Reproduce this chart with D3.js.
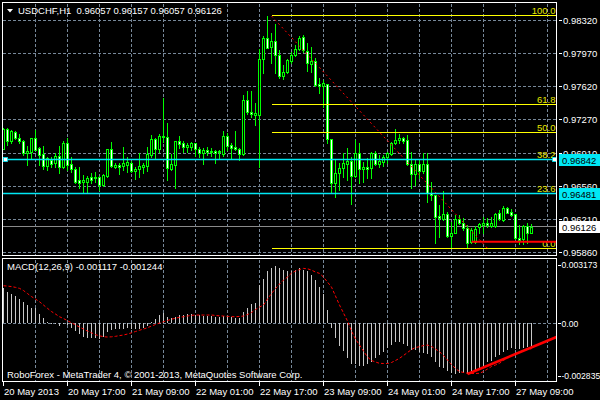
<!DOCTYPE html>
<html><head><meta charset="utf-8">
<script src="https://cdn.jsdelivr.net/npm/d3@7"></script>
<style>
body{margin:0;background:#000}
svg{display:block}
text{font-family:"Liberation Sans",Arial,sans-serif;font-size:9.5px}
</style>
</head><body>
<svg id="c" width="600" height="400"></svg>
<script>
// ---------------- data ----------------
const headerText = "USDCHF,H1  0.96057 0.96157 0.96057 0.96126";
const macdText = "MACD(12,26,9) -0.001117 -0.001244";
const copyrightText = "RoboForex - MetaTrader 4, \u00A9 2001-2013, MetaQuotes Software Corp.";
const timeLabels = ["20 May 2013","20 May 17:00","21 May 09:00","22 May 01:00","22 May 17:00","23 May 09:00","24 May 01:00","24 May 17:00","27 May 09:00"];
const timeLabelBars = [0,16,32,48,64,80,96,112,128];
const priceTicks = [0.98320,0.97970,0.97620,0.97270,0.96910,0.96560,0.96210,0.95860];
const priceTickLabels = ["0.98320","0.97970","0.97620","0.97270","0.96910","0.96560","0.96210","0.95860"];
const macdTicks = [0.003173, 0, -0.002835];
const macdTickLabels = ["0.003173","0.00","-0.002835"];
// [open, high, low, close]
const candles = [
[0.96958,0.97175,0.96952,0.97165],[0.97165,0.97175,0.96998,0.97043],[0.97043,0.97157,0.97022,0.97146],[0.97139,0.97146,0.97058,0.97069],
[0.97069,0.97111,0.97022,0.97043],[0.97043,0.97051,0.96891,0.96909],[0.96909,0.96987,0.96785,0.96934],[0.96926,0.97075,0.96856,0.97069],
[0.97069,0.97157,0.96944,0.96944],[0.96962,0.96979,0.96785,0.96891],[0.96902,0.96987,0.96739,0.96777],[0.96777,0.96867,0.96732,0.96856],
[0.96838,0.96867,0.96767,0.96795],[0.96803,0.96909,0.96767,0.96881],[0.96881,0.96987,0.96696,0.96760],[0.96760,0.97040,0.96750,0.97016],
[0.97016,0.97069,0.96732,0.96785],[0.96795,0.96867,0.96714,0.96739],[0.96739,0.96767,0.96590,0.96607],[0.96625,0.96760,0.96537,0.96596],
[0.96607,0.96678,0.96484,0.96625],[0.96607,0.96668,0.96490,0.96643],[0.96654,0.96703,0.96590,0.96625],[0.96643,0.96714,0.96607,0.96660],
[0.96660,0.96668,0.96519,0.96572],[0.96572,0.96686,0.96561,0.96678],[0.96668,0.96958,0.96660,0.96952],[0.96952,0.97033,0.96767,0.96774],
[0.96760,0.96809,0.96750,0.96785],[0.96785,0.96809,0.96689,0.96760],[0.96774,0.96973,0.96732,0.96809],[0.96785,0.96867,0.96714,0.96820],
[0.96809,0.96830,0.96714,0.96724],[0.96724,0.96767,0.96633,0.96739],[0.96739,0.96916,0.96660,0.96774],[0.96767,0.96809,0.96703,0.96785],
[0.96777,0.96979,0.96724,0.96902],[0.96891,0.97104,0.96873,0.97058],[0.97058,0.97069,0.96856,0.96952],[0.96952,0.97115,0.96926,0.97093],
[0.97093,0.97494,0.97033,0.97079],[0.97086,0.97235,0.96625,0.96750],[0.96739,0.96902,0.96732,0.96795],[0.96785,0.97040,0.96537,0.97040],
[0.97040,0.97093,0.96962,0.97008],[0.97022,0.97043,0.96926,0.96979],[0.96979,0.97022,0.96926,0.96998],[0.96979,0.97033,0.96944,0.97022],
[0.97022,0.97022,0.96881,0.96952],[0.96952,0.96979,0.96873,0.96909],[0.96909,0.96962,0.96795,0.96944],[0.96944,0.96973,0.96891,0.96926],
[0.96926,0.96962,0.96881,0.96937],[0.96934,0.96944,0.96809,0.96909],[0.96926,0.96944,0.96845,0.96934],[0.96902,0.97150,0.96881,0.97093],
[0.97093,0.97122,0.96944,0.96987],[0.96998,0.97022,0.96845,0.96962],[0.96973,0.97150,0.96944,0.96952],[0.96952,0.96962,0.96838,0.96902],
[0.96902,0.97529,0.96891,0.97476],[0.97476,0.97575,0.97327,0.97352],[0.97352,0.97575,0.97299,0.97327],[0.97317,0.97448,0.97210,0.97341],
[0.97317,0.98016,0.96767,0.97909],[0.97909,0.98157,0.97767,0.98133],[0.98133,0.98370,0.98026,0.98026],[0.98037,0.98186,0.97867,0.98107],
[0.98107,0.98285,0.97760,0.97955],[0.97955,0.98008,0.97707,0.97732],[0.97732,0.97849,0.97696,0.97777],[0.97777,0.97909,0.97767,0.97902],
[0.97894,0.97990,0.97867,0.97955],[0.97955,0.98061,0.97944,0.98016],[0.98016,0.98157,0.98008,0.98133],[0.98143,0.98168,0.97990,0.98008],
[0.98001,0.98079,0.97788,0.97867],[0.97859,0.98037,0.97777,0.97894],[0.97894,0.97920,0.97625,0.97636],[0.97646,0.97707,0.97548,0.97625],
[0.97625,0.97689,0.97405,0.97654],[0.97646,0.97646,0.97016,0.97058],[0.97058,0.97058,0.96501,0.96596],[0.96596,0.96845,0.96448,0.96696],
[0.96696,0.96803,0.96519,0.96750],[0.96750,0.96916,0.96660,0.96803],[0.96795,0.96962,0.96625,0.96830],[0.96830,0.96873,0.96370,0.96668],
[0.96668,0.97051,0.96660,0.96916],[0.96916,0.97022,0.96596,0.96739],[0.96739,0.96820,0.96607,0.96760],[0.96760,0.96856,0.96643,0.96739],
[0.96750,0.96926,0.96643,0.96916],[0.96916,0.96937,0.96785,0.96795],[0.96795,0.96891,0.96760,0.96830],[0.96820,0.96891,0.96774,0.96873],
[0.96873,0.96926,0.96809,0.96909],[0.96902,0.97033,0.96891,0.97016],[0.97016,0.97165,0.97008,0.97051],[0.97051,0.97115,0.97016,0.97069],
[0.97069,0.97079,0.97016,0.97043],[0.97051,0.97104,0.96785,0.96795],[0.96795,0.96926,0.96537,0.96689],[0.96689,0.96845,0.96572,0.96795],
[0.96795,0.96845,0.96643,0.96724],[0.96724,0.96916,0.96703,0.96795],[0.96795,0.96909,0.96394,0.96484],[0.96484,0.96607,0.96412,0.96466],
[0.96466,0.96466,0.95952,0.96235],[0.96242,0.96359,0.96022,0.96218],[0.96207,0.96511,0.96200,0.96264],[0.96264,0.96288,0.96016,0.96029],
[0.96029,0.96182,0.95899,0.96065],[0.96065,0.96253,0.96058,0.96207],[0.96207,0.96253,0.96157,0.96171],[0.96171,0.96218,0.96093,0.96111],
[0.96111,0.96146,0.95899,0.95958],[0.95969,0.96111,0.95958,0.96093],[0.95969,0.96136,0.95958,0.96101],[0.96122,0.96171,0.96065,0.96157],
[0.96146,0.96228,0.96065,0.96165],[0.96165,0.96218,0.96128,0.96146],[0.96136,0.96228,0.96128,0.96165],[0.96136,0.96277,0.96128,0.96264],
[0.96271,0.96306,0.96200,0.96207],[0.96200,0.96349,0.96192,0.96324],[0.96324,0.96341,0.96271,0.96277],[0.96288,0.96314,0.96242,0.96253],
[0.96264,0.96264,0.95994,0.96005],[0.96005,0.96146,0.95944,0.95987],[0.95994,0.96146,0.95944,0.96136],[0.96136,0.96171,0.95958,0.96058],
[0.96057,0.96157,0.96057,0.96126]
];
const macdMain = [
1727e-6,1530e-6,1432e-6,1363e-6,1200e-6,1068e-6,905e-6,772e-6,743e-6,448e-6,
251e-6,84e-6,20e-6,-44e-6,-113e-6,-30e-6,-79e-6,-212e-6,-374e-6,-536e-6,
-654e-6,-704e-6,-704e-6,-733e-6,-768e-6,-654e-6,-438e-6,-325e-6,-276e-6,-276e-6,
-276e-6,-241e-6,-276e-6,-276e-6,-276e-6,-212e-6,-113e-6,84e-6,216e-6,413e-6,
497e-6,330e-6,280e-6,330e-6,413e-6,413e-6,448e-6,448e-6,413e-6,413e-6,
379e-6,379e-6,379e-6,330e-6,330e-6,379e-6,379e-6,330e-6,280e-6,280e-6,
546e-6,772e-6,940e-6,989e-6,1889e-6,2184e-6,2578e-6,2740e-6,2839e-6,2711e-6,
2627e-6,2578e-6,2578e-6,2627e-6,2711e-6,2627e-6,2578e-6,2381e-6,2135e-6,1806e-6,
1432e-6,659e-6,-241e-6,-733e-6,-1097e-6,-1358e-6,-1717e-6,-2012e-6,-2012e-6,-2081e-6,
-2081e-6,-2012e-6,-1914e-6,-1717e-6,-1555e-6,-1392e-6,-1225e-6,-1063e-6,-930e-6,-930e-6,
-1028e-6,-1097e-6,-1309e-6,-1309e-6,-1392e-6,-1471e-6,-1520e-6,-1638e-6,-1884e-6,-2130e-6,
-2209e-6,-2342e-6,-2455e-6,-2504e-6,-2455e-6,-2455e-6,-2504e-6,-2455e-6,-2293e-6,-2209e-6,
-2081e-6,-1914e-6,-1850e-6,-1638e-6,-1555e-6,-1422e-6,-1309e-6,-1225e-6,-1240e-6,-1260e-6,
-1200e-6,-1180e-6,-1117e-6
];
const macdSignal = [
1855e-6,1840e-6,1815e-6,1776e-6,1727e-6,1619e-6,1471e-6,1323e-6,1200e-6,1068e-6,
905e-6,743e-6,585e-6,462e-6,330e-6,241e-6,133e-6,30e-6,-69e-6,-177e-6,
-276e-6,-374e-6,-462e-6,-551e-6,-610e-6,-654e-6,-669e-6,-659e-6,-635e-6,-600e-6,
-571e-6,-522e-6,-462e-6,-399e-6,-335e-6,-276e-6,-212e-6,-128e-6,-54e-6,20e-6,
84e-6,143e-6,207e-6,256e-6,300e-6,330e-6,364e-6,399e-6,413e-6,413e-6,
413e-6,413e-6,413e-6,394e-6,374e-6,364e-6,349e-6,335e-6,330e-6,344e-6,
364e-6,438e-6,536e-6,684e-6,807e-6,905e-6,1200e-6,1471e-6,1717e-6,1938e-6,
2135e-6,2283e-6,2480e-6,2578e-6,2652e-6,2711e-6,2691e-6,2627e-6,2529e-6,2465e-6,
2283e-6,2037e-6,1791e-6,1348e-6,905e-6,512e-6,118e-6,-374e-6,-768e-6,-1063e-6,
-1358e-6,-1653e-6,-1825e-6,-1899e-6,-1963e-6,-1973e-6,-1973e-6,-1924e-6,-1825e-6,-1717e-6,
-1579e-6,-1432e-6,-1284e-6,-1186e-6,-1146e-6,-1087e-6,-1063e-6,-1137e-6,-1260e-6,-1392e-6,
-1579e-6,-1801e-6,-2022e-6,-2219e-6,-2367e-6,-2416e-6,-2455e-6,-2465e-6,-2465e-6,-2455e-6,
-2367e-6,-2244e-6,-2121e-6,-2047e-6,-1963e-6,-1825e-6,-1678e-6,-1579e-6,-1481e-6,-1392e-6,
-1333e-6,-1284e-6,-1244e-6
];
const fibHigh = 0.98370, fibLow = 0.95899;
const fibBars = [67, 121];
const fibLevels = [0, 23.6, 38.2, 50, 61.8, 100];
const fibLabels = ["0.0","23.6","38.2","50.0","61.8","100.0"];
const hLinePrices = [0.96842, 0.96481];
const hLineLabels = ["0.96842","0.96481"];
const bidPrice = 0.96126, bidLabel = "0.96126";
const supportBar = 117, supportPrice = 0.95969;
const macdTrendBars = [116, 138.4], macdTrendValues = [-0.00249, -0.000654];

// ---------------- layout ----------------
const L = 2.5, R = 556.5;
const mainTop = 2.5, mainBot = 255.5, subTop = 258.5, subBot = 381.5;
const svg = d3.select("#c");
svg.append("rect").attr("width",600).attr("height",400).attr("fill","#000");

const x = d3.scaleLinear().domain([0, 138.4]).range([3.5, 557.1]);
const yP = d3.scaleLinear().domain([0.95860, 0.98320]).range([252, 20.7]);
const yM = d3.scaleLinear().domain([-0.002835, 0.003173]).range([381, 259]);
const snap = v => Math.round(v - 0.5) + 0.5;

const GRID = "#778899", LIME = "#00ff00", CYAN = "#00e8f4", FIB = "#ffff00";

// grids
const gGrid = svg.append("g").attr("stroke", GRID).attr("stroke-dasharray","3,2").attr("shape-rendering","crispEdges");
const vBars = d3.range(8, 139, 8);
[[mainTop, mainBot],[subTop, subBot]].forEach(([t,b]) => {
  gGrid.selectAll(null).data(vBars).join("line")
    .attr("x1", d => x(d)).attr("x2", d => x(d)).attr("y1", t+1).attr("y2", b-1);
});
gGrid.selectAll(null).data(priceTicks).join("line")
  .attr("x1", L).attr("x2", R).attr("y1", d => snap(yP(d))).attr("y2", d => snap(yP(d)));
gGrid.append("line").attr("x1", L).attr("x2", R).attr("y1", snap(yM(0))).attr("y2", snap(yM(0)));

// bid line
svg.append("line").attr("x1", L).attr("x2", R).attr("y1", snap(yP(bidPrice))).attr("y2", snap(yP(bidPrice)))
  .attr("stroke", "#8a8a8a").attr("shape-rendering","crispEdges");

// candles
const gC = svg.append("g").attr("shape-rendering","crispEdges");
candles.forEach((c, i) => {
  const [o,h,l,cl] = c;
  const cx = x(i);
  gC.append("line").attr("x1", cx).attr("x2", cx)
    .attr("y1", Math.round(yP(h))).attr("y2", Math.round(yP(l)) + 1).attr("stroke", LIME);
  const t = Math.round(yP(Math.max(o, cl))), b = Math.round(yP(Math.min(o, cl)));
  if (b - t < 1) {
    gC.append("line").attr("x1", cx - 1.5).attr("x2", cx + 1.5).attr("y1", t + 0.5).attr("y2", t + 0.5).attr("stroke", LIME);
  } else {
    gC.append("rect").attr("x", cx - 1).attr("width", 2).attr("y", t + 0.5).attr("height", b - t)
      .attr("fill", cl > o ? "#000" : "#fff").attr("stroke", LIME);
  }
});

// fibonacci
const fibPrice = lv => fibLow + (fibHigh - fibLow) * lv / 100;
const gF = svg.append("g");
gF.selectAll("line").data(fibLevels).join("line")
  .attr("x1", x(fibBars[0])).attr("x2", R).attr("y1", d => snap(yP(fibPrice(d)))).attr("y2", d => snap(yP(fibPrice(d))))
  .attr("stroke", FIB).attr("shape-rendering","crispEdges");
gF.selectAll("text").data(fibLevels).join("text")
  .attr("x", 555.5).attr("y", d => snap(yP(fibPrice(d))) - 2).attr("text-anchor","end")
  .attr("fill", "#e8e800").text((d,i) => fibLabels[i]);
svg.append("line")
  .attr("x1", x(fibBars[0])).attr("y1", yP(fibHigh)).attr("x2", x(fibBars[1])).attr("y2", yP(fibLow))
  .attr("stroke", "#ff0000").attr("stroke-dasharray","2,3");

// cyan horizontal lines
svg.selectAll(".hl").data(hLinePrices).join("line").attr("class","hl")
  .attr("x1", L).attr("x2", R).attr("y1", d => snap(yP(d))).attr("y2", d => snap(yP(d)))
  .attr("stroke", CYAN).attr("stroke-width", 1.5);
[3.5, 552.5].forEach(px => {
  svg.append("rect").attr("x", px).attr("y", snap(yP(hLinePrices[0])) - 2).attr("width", 4).attr("height", 4)
    .attr("fill", "#fff").attr("stroke", CYAN).attr("stroke-width", 0.8);
});

// support line
svg.append("line").attr("x1", x(supportBar)).attr("x2", R).attr("y1", yP(supportPrice)).attr("y2", yP(supportPrice))
  .attr("stroke", "#ff0000").attr("stroke-width", 2.2);

// MACD histogram
const gH = svg.append("g").attr("shape-rendering","crispEdges");
const z = Math.round(yM(0));
gH.selectAll("rect").data(macdMain).join("rect")
  .attr("x", (d,i) => x(i) - 0.5).attr("width", 1)
  .attr("y", d => Math.min(z, Math.round(yM(d)))).attr("height", d => Math.max(1, Math.abs(Math.round(yM(d)) - z)))
  .attr("fill", "#c8c8c8");
svg.append("path").datum(macdSignal)
  .attr("d", d3.line().x((d,i) => x(i)).y(d => yM(d)))
  .attr("fill","none").attr("stroke","#ff0000").attr("stroke-dasharray","3,2");
// MACD trend line (clipped)
svg.append("clipPath").attr("id","subclip").append("rect").attr("x", L).attr("y", subTop).attr("width", R - L).attr("height", subBot - subTop);
svg.append("line").attr("clip-path","url(#subclip)")
  .attr("x1", x(macdTrendBars[0])).attr("y1", yM(macdTrendValues[0]))
  .attr("x2", x(macdTrendBars[1])).attr("y2", yM(macdTrendValues[1]))
  .attr("stroke","#ff0000").attr("stroke-width", 2.6);

// panel borders
const gB = svg.append("g").attr("fill","none").attr("stroke","#fff").attr("shape-rendering","crispEdges");
gB.append("rect").attr("x", L).attr("y", mainTop).attr("width", R - L).attr("height", mainBot - mainTop);
gB.append("rect").attr("x", L).attr("y", subTop).attr("width", R - L).attr("height", subBot - subTop);

// price axis
const gA = svg.append("g");
gA.selectAll("line").data(priceTicks).join("line")
  .attr("x1", 559).attr("x2", 562).attr("y1", d => snap(yP(d))).attr("y2", d => snap(yP(d)))
  .attr("stroke","#fff").attr("shape-rendering","crispEdges");
gA.selectAll("text").data(priceTicks).join("text")
  .attr("x", 563).attr("y", d => yP(d) + 3.5).attr("fill","#fff").text((d,i) => priceTickLabels[i]);

// colored price boxes
const boxes = [
  {p: hLinePrices[0], t: hLineLabels[0], fill: CYAN},
  {p: hLinePrices[1], t: hLineLabels[1], fill: CYAN},
  {p: bidPrice, t: bidLabel, fill: "#fff"}
];
boxes.forEach(b => {
  const yy = Math.round(yP(b.p));
  svg.append("rect").attr("x", 559).attr("y", yy - 6).attr("width", 41).attr("height", 12).attr("fill", b.fill);
  svg.append("text").attr("x", 562).attr("y", yy + 3.5).attr("fill", "#000").text(b.t);
});

// MACD axis
const mLabY = v => Math.min(Math.max(yM(v), 265), 376);
svg.selectAll(".mt").data(macdTicks).join("line").attr("class","mt")
  .attr("x1", 558).attr("x2", 561).attr("y1", d => snap(mLabY(d))).attr("y2", d => snap(mLabY(d)))
  .attr("stroke","#fff").attr("shape-rendering","crispEdges");
svg.selectAll(".ml").data(macdTicks).join("text").attr("class","ml")
  .attr("x", 561.5).attr("y", d => mLabY(d) + 3.2).attr("fill","#fff")
  .style("font-size","8.6px").text((d,i) => macdTickLabels[i]);

// time axis
svg.selectAll(".tt").data(timeLabelBars).join("line").attr("class","tt")
  .attr("x1", d => x(d) - 0.5).attr("x2", d => x(d) - 0.5)
  .attr("y1", subBot + 0.5).attr("y2", subBot + 4.5).attr("stroke","#fff").attr("shape-rendering","crispEdges");
svg.selectAll(".tl").data(timeLabelBars).join("text").attr("class","tl")
  .attr("x", d => x(d) + 0.5).attr("y", 395).attr("fill","#fff").text((d,i) => timeLabels[i]);

// header texts
svg.append("path").attr("d","M7,9 L13,9 L10,12.5 Z").attr("fill","#fff");
svg.append("text").attr("x", 18).attr("y", 14).attr("fill","#fff").attr("xml:space","preserve").style("white-space","pre").text(headerText);
svg.append("text").attr("x", 7).attr("y", 270).attr("fill","#fff").text(macdText);
svg.append("text").attr("x", 7).attr("y", 378).attr("fill","#fff").text(copyrightText);
</script>
</body></html>
